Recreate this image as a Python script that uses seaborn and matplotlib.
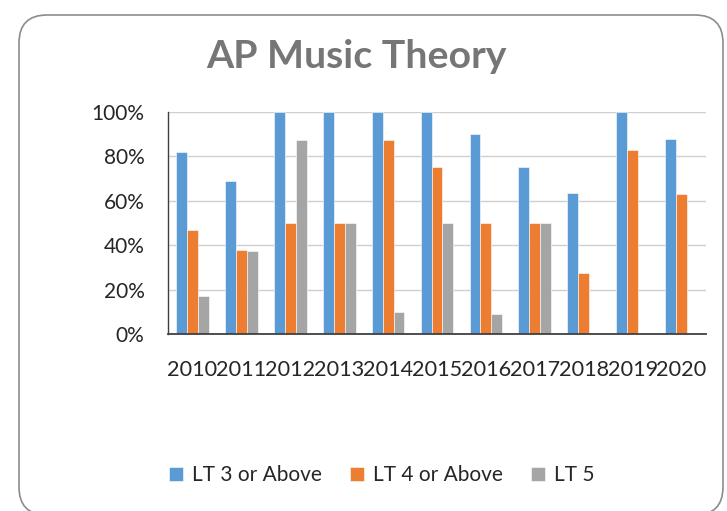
import pandas as pd
import matplotlib.pyplot as plt
import seaborn as sns
from matplotlib.patches import FancyBboxPatch
from matplotlib.transforms import IdentityTransform
from matplotlib.ticker import PercentFormatter

# Chart data (share of students, in %)
years = ['2010', '2011', '2012', '2013', '2014', '2015', '2016', '2017', '2018', '2019', '2020']
lt3_or_above = [82, 69, 100, 100, 100, 100, 90, 75, 63.6, 100, 88]
lt4_or_above = [47, 38, 50, 50, 87.5, 75, 50, 50, 27.3, 83, 63]
lt5 = [17, 37.5, 87.5, 50, 10, 50, 9, 50, 0, 0, 0]
series_names = ['LT 3 or Above', 'LT 4 or Above', 'LT 5']
colors = ['#5B9BD5', '#ED7D31', '#A5A5A5']

# Long format for seaborn
df = pd.DataFrame({'year': years * 3,
                   'value': lt3_or_above + lt4_or_above + lt5,
                   'series': [s for s in series_names for _ in years]})

sns.set_style('white')
plt.rcParams['font.family'] = ['Lato', 'DejaVu Sans']

W, H = 727, 511
fig = plt.figure(figsize=(W / 100, H / 100), dpi=100)

# Rounded frame around the whole chart (pixel coordinates, origin bottom-left)
frame = FancyBboxPatch((19, -4), 704, H - 4 - 7,
                       boxstyle='round,pad=0,rounding_size=28',
                       transform=IdentityTransform(), fill=False,
                       edgecolor='#8c8c8c', linewidth=1.2)
fig.patches.append(frame)

ax = fig.add_axes([168 / W, (H - 334) / H, (706 - 168) / W, (334 - 112) / H])
sns.barplot(data=df, x='year', y='value', hue='series', palette=colors,
            saturation=1, width=0.67, ax=ax, edgecolor='white', linewidth=0.4)

ax.set_ylim(0, 100)
ax.set_yticks(range(0, 101, 20))
ax.yaxis.set_major_formatter(PercentFormatter(decimals=0))
ax.grid(axis='y', color='#d0d0d0', linewidth=1)
ax.set_axisbelow(True)
ax.set_xlabel('')
ax.set_ylabel('')
for side in ['top', 'right']:
    ax.spines[side].set_visible(False)
ax.spines['left'].set_color('#404040')
ax.spines['bottom'].set_color('#404040')
ax.spines['left'].set_linewidth(1)
ax.spines['bottom'].set_linewidth(1.3)
ax.tick_params(axis='y', labelsize=15, pad=17, length=0)
ax.tick_params(axis='x', labelsize=15.6, pad=19, length=0)

# Title
fig.text(356 / W, 1 - 57 / H, 'AP Music Theory', ha='center', va='center',
         fontsize=28.3, fontweight='bold', color='#767676')

# Legend at bottom
handles, labels = ax.get_legend_handles_labels()
ax.legend_.remove()
fig.legend(handles, labels, loc='center', bbox_to_anchor=(382 / W, 1 - 475 / H),
           ncol=3, frameon=False, fontsize=15, handlelength=0.65, handleheight=0.65,
           handletextpad=0.45, columnspacing=1.35)

plt.savefig('out.png', dpi=100)
